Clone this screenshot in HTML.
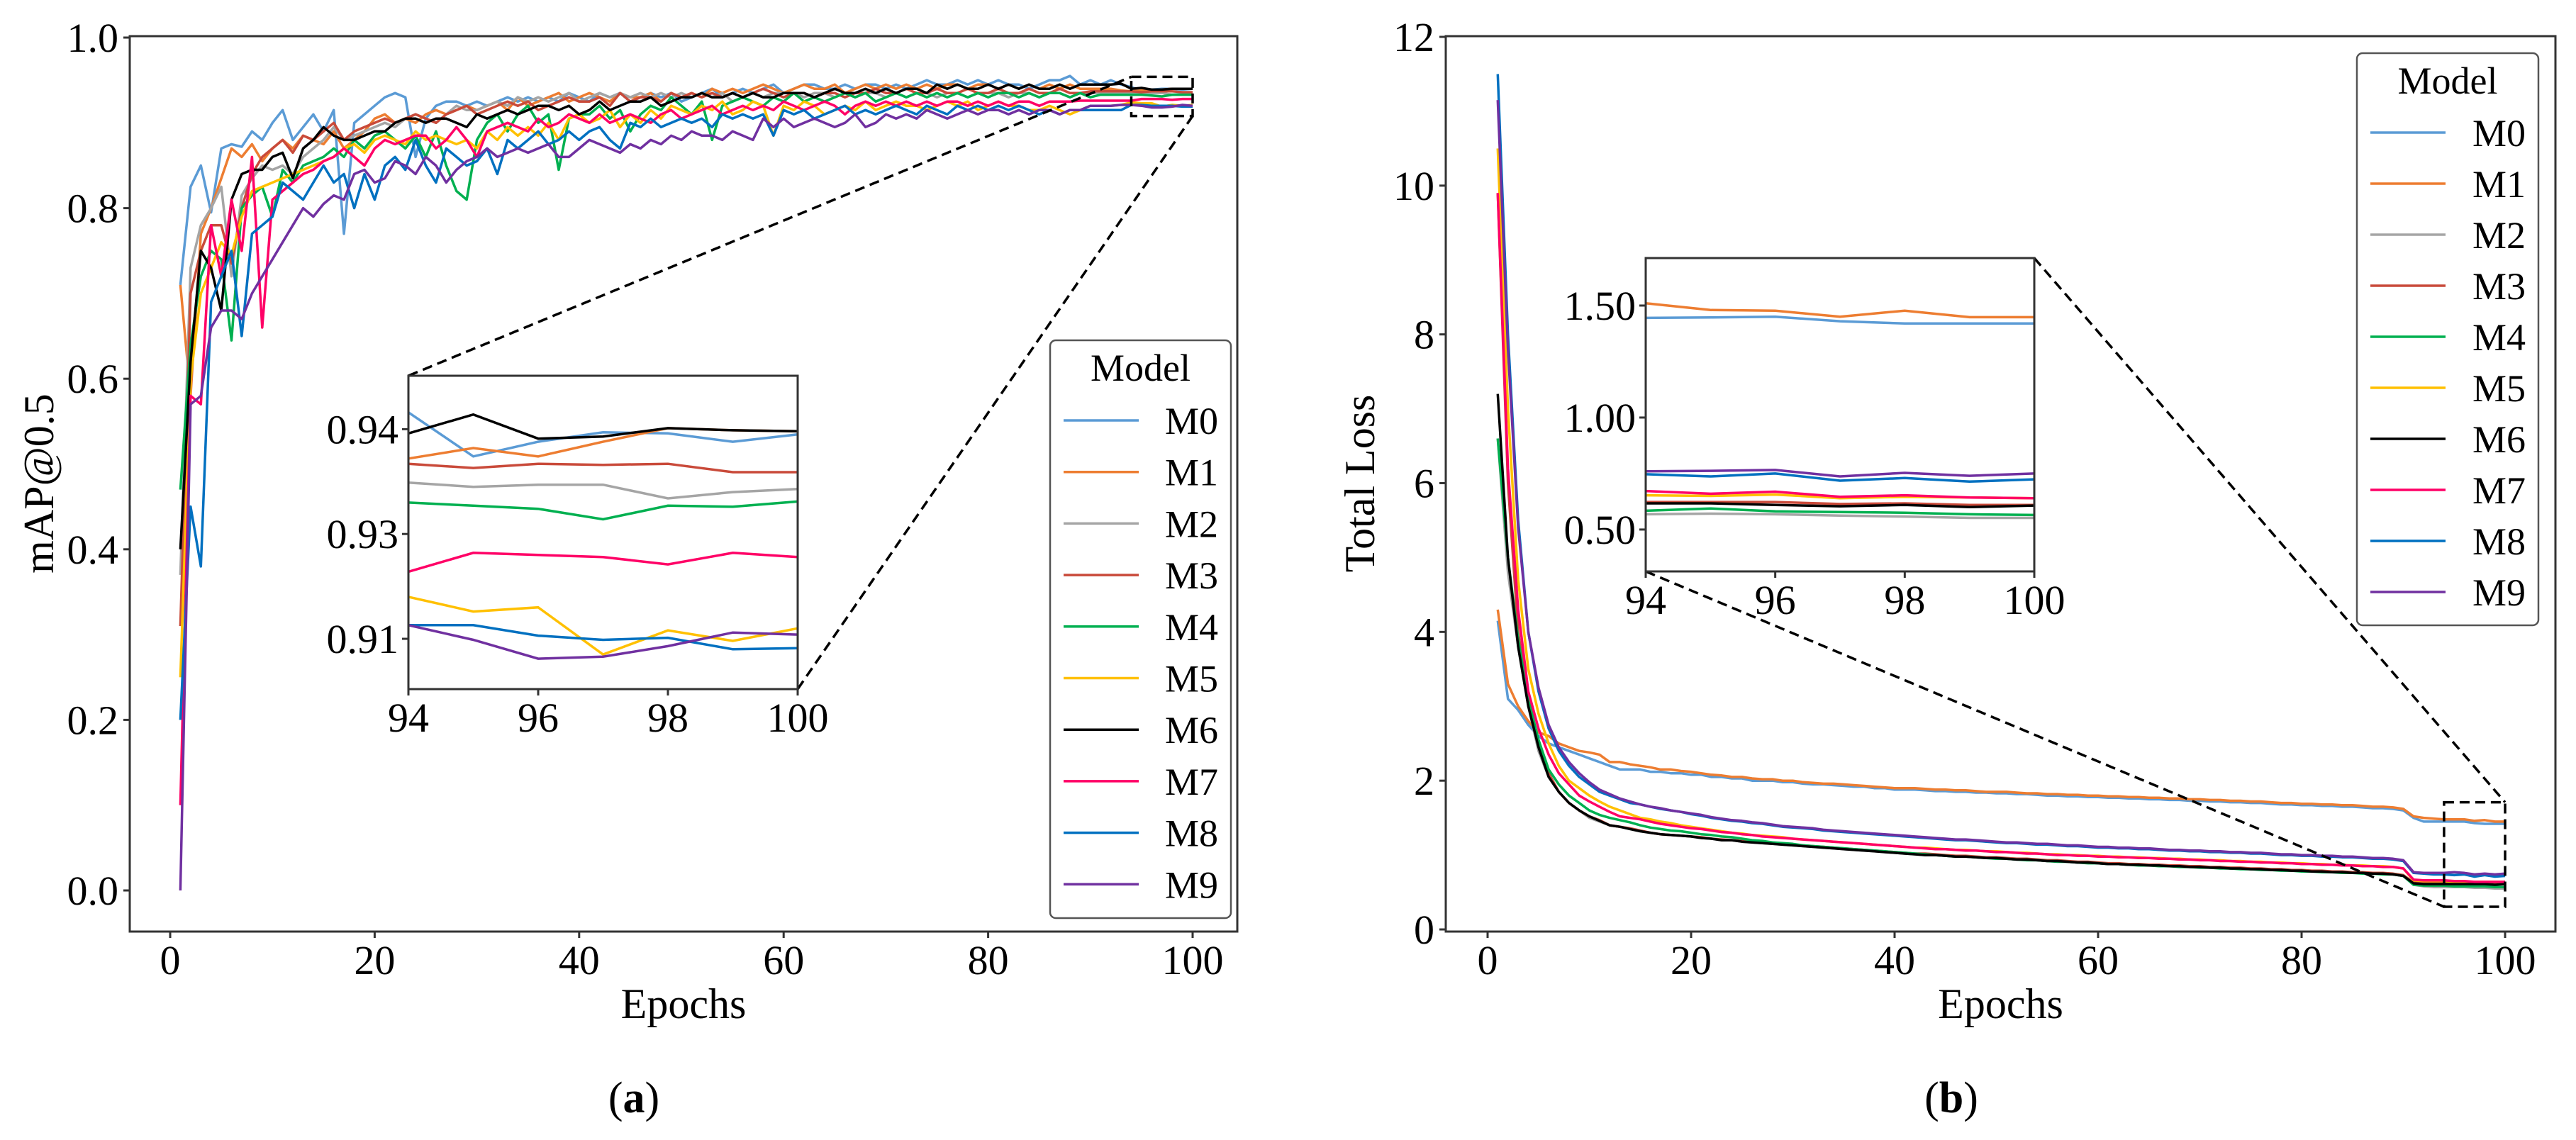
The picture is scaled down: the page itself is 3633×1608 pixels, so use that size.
<!DOCTYPE html>
<html><head><meta charset="utf-8"><style>
html,body{margin:0;padding:0;background:#fff;}
svg{display:block;font-family:"Liberation Serif",serif;}
</style></head><body>
<svg id="fig" width="3633" height="1608" viewBox="0 0 3633 1608" xmlns="http://www.w3.org/2000/svg"></svg>
<script>
const models=['M0','M1','M2','M3','M4','M5','M6','M7','M8','M9'];
const colors=['#5b9bd5','#ed7d31','#a5a5a5','#c94a3a','#00b050','#ffc000','#000000','#ff0066','#0070c0','#7030a0'];
const mapTicks=[0,0.2,0.4,0.6,0.8,1.0];
const mapTickLabels=['0.0','0.2','0.4','0.6','0.8','1.0'];
const epochTicks=[0,20,40,60,80,100];
const lossTicks=[0,2,4,6,8,10,12];
const insetEpochTicks=[94,96,98,100];
const mapInsetTicks=[0.94,0.93,0.92];
const mapInsetTickLabels=['0.94','0.93','0.91'];
const lossInsetTicks=[0.5,1.0,1.5];
const lossInsetTickLabels=['0.50','1.00','1.50'];
const insetEpochs=[94,95,96,97,98,99,100];
// mAP@0.5 in thousandths, epochs 1..100
const mapM0=[710,825,850,795,870,875,872,890,880,900,915,880,895,910,890,915,770,900,910,920,930,935,930,860,905,920,925,925,920,925,920,925,930,925,930,925,930,925,935,930,925,935,930,935,925,930,935,930,935,925,930,935,940,930,935,940,935,940,945,935,940,945,945,940,940,945,940,945,945,940,945,940,945,950,945,945,950,945,950,945,950,945,945,940,945,950,950,955,945,950,945,950,945,942,937,939,940,940,939,940];
const mapM1=[710,580,770,800,835,870,860,875,855,870,880,870,885,880,875,890,870,880,890,905,910,900,905,900,910,915,910,915,920,915,920,925,915,930,920,925,930,935,925,930,935,930,925,935,930,930,935,925,935,930,935,930,940,935,940,935,940,945,940,935,940,945,940,940,945,935,940,945,940,945,940,945,940,945,940,945,945,940,945,945,940,945,940,945,940,945,940,945,940,940,940,940,938,937,938,937,939,940,940,940];
const mapM2=[370,730,780,800,825,720,815,835,850,845,850,840,860,870,880,895,880,885,890,895,900,895,905,910,905,900,910,920,915,915,920,925,920,930,925,930,925,930,935,925,930,935,930,935,930,935,930,935,930,935,930,935,930,935,925,930,935,930,935,935,935,930,935,935,930,935,930,935,935,930,935,930,935,935,930,935,935,930,935,935,935,930,935,935,930,935,935,930,935,935,935,935,935,935,934,935,935,933,934,934];
const mapM3=[310,700,750,780,780,735,800,840,860,870,880,865,885,880,890,900,880,890,895,900,905,900,905,910,905,900,910,915,920,910,915,920,925,920,925,915,920,925,930,925,925,930,920,935,925,930,930,925,935,930,935,930,935,930,935,930,935,940,935,930,935,935,930,935,935,930,935,935,940,935,935,940,935,935,940,935,935,940,935,935,940,935,935,940,935,935,940,935,935,937,937,937,937,937,936,937,937,937,936,936];
const mapM4=[470,640,720,750,740,645,800,815,825,790,845,830,850,855,860,870,860,880,870,885,890,880,870,885,860,890,850,820,810,880,900,910,890,910,920,900,910,845,905,910,910,920,905,915,890,910,920,915,930,920,910,925,880,920,925,930,925,920,930,925,935,925,930,925,930,935,930,935,925,930,935,930,935,930,935,930,935,930,935,930,935,935,930,935,930,935,935,930,935,930,933,933,933,933,933,932,931,933,933,933];
const mapM5=[250,600,700,730,760,745,790,820,825,830,835,840,845,850,855,860,870,875,865,880,885,880,875,890,880,885,880,875,880,870,890,880,895,885,895,885,900,880,905,910,900,905,915,895,910,900,915,905,920,915,910,920,915,925,910,915,925,920,885,920,915,925,920,910,915,920,915,925,915,920,925,920,920,915,920,925,920,925,915,920,925,920,920,915,915,920,915,910,915,920,920,920,921,924,923,923,919,921,920,921];
const mapM6=[400,620,750,730,680,810,840,845,845,860,865,835,870,880,895,885,880,880,885,890,890,900,905,905,900,905,905,900,895,910,905,910,915,910,915,920,920,915,920,910,915,925,915,920,925,925,930,920,925,930,930,935,930,930,935,930,935,930,930,935,935,935,930,935,940,935,935,940,935,940,935,940,940,935,945,940,945,940,940,945,940,945,940,945,940,940,945,940,945,945,945,945,946,940,941,939,939,940,940,940];
const mapM7=[100,580,570,780,720,810,750,860,660,810,820,830,840,845,855,860,870,860,850,870,880,875,880,885,885,870,880,895,880,860,890,895,900,895,890,905,895,900,910,905,900,910,900,905,910,905,900,910,915,905,910,915,920,910,915,920,915,920,915,925,920,915,920,925,920,910,920,925,920,925,920,925,920,925,920,925,925,920,925,920,925,920,925,925,920,925,925,925,926,926,926,926,926,926,928,928,928,927,928,928];
const mapM8=[200,450,380,690,720,750,650,770,780,790,830,820,810,830,850,830,840,800,840,810,850,860,845,880,850,830,870,860,850,855,870,840,880,870,880,890,875,880,890,880,890,895,880,870,900,895,905,895,900,905,900,905,895,910,905,910,905,910,885,915,910,915,905,910,915,920,910,915,910,915,920,915,910,920,915,910,920,915,920,915,920,915,920,915,910,915,910,915,915,915,915,915,915,921,921,920,920,920,919,919];
const mapM9=[0,570,580,660,680,680,670,700,720,740,760,780,800,790,805,815,810,840,845,830,835,855,850,840,860,850,830,845,855,860,870,860,865,870,865,870,875,860,860,870,880,875,870,865,875,870,880,875,885,880,890,885,885,880,890,885,880,905,895,905,895,900,905,900,895,900,910,895,900,910,905,910,905,915,910,905,910,915,910,915,915,910,915,910,915,915,910,915,915,920,920,920,921,921,920,918,918,919,921,920];
// inset mAP values (epochs 94..100)
const mapInM0=[0.9416,0.9374,0.9388,0.9397,0.9396,0.9388,0.9395];
const mapInM1=[0.9372,0.9382,0.9374,0.9388,0.9401,0.9399,0.9398];
const mapInM2=[0.9349,0.9345,0.9347,0.9347,0.9334,0.9340,0.9343];
const mapInM3=[0.9367,0.9363,0.9367,0.9366,0.9367,0.9359,0.9359];
const mapInM4=[0.9330,0.9327,0.9324,0.9314,0.9327,0.9326,0.9331];
const mapInM5=[0.9240,0.9226,0.9230,0.9185,0.9208,0.9198,0.9210];
const mapInM6=[0.9396,0.9414,0.9391,0.9393,0.9401,0.9399,0.9398];
const mapInM7=[0.9264,0.9282,0.9280,0.9278,0.9271,0.9282,0.9278];
const mapInM8=[0.9213,0.9213,0.9203,0.9199,0.9201,0.9190,0.9191];
const mapInM9=[0.9213,0.9199,0.9181,0.9183,0.9193,0.9206,0.9204];
// total loss in hundredths, epochs 1..100
const lossM0=[415,310,295,275,260,250,245,240,235,230,225,220,215,215,215,212,212,210,210,208,208,205,205,203,203,200,200,200,198,198,196,195,195,194,193,192,192,190,190,188,188,188,187,186,186,185,185,184,184,183,183,182,182,181,180,180,179,179,178,178,177,177,176,176,175,175,174,174,173,173,172,172,171,171,170,170,169,168,168,167,167,166,166,165,165,164,163,163,162,160,150,145,145,145,145,145,143,142,142,142];
const lossM1=[430,330,300,280,265,260,250,245,240,238,235,225,225,222,220,218,215,215,213,212,210,208,207,205,205,203,202,202,200,200,198,197,196,196,195,194,193,192,191,190,190,190,189,188,188,187,187,186,185,185,185,184,183,183,182,182,181,181,180,180,179,179,178,178,177,177,176,176,175,175,174,174,173,173,172,172,171,170,170,169,169,168,168,167,167,166,165,165,164,162,152,150,149,148,148,148,146,147,145,145];
const lossM2=[660,480,380,300,240,205,185,170,160,150,145,140,138,135,132,130,128,127,126,125,123,122,120,120,118,117,116,115,114,113,112,111,110,109,108,107,106,105,104,103,102,101,100,100,99,98,98,97,96,96,95,94,94,93,92,92,91,90,90,89,88,88,87,87,86,86,85,85,84,84,83,83,82,82,81,81,80,80,79,79,78,78,77,77,76,76,75,75,74,72,60,58,57,57,57,57,56,56,55,55];
const lossM3=[990,600,400,310,250,210,185,170,160,152,147,140,138,136,133,130,128,127,126,125,124,122,121,120,119,118,117,116,115,114,113,112,111,110,109,108,107,106,105,104,103,102,102,101,100,99,99,98,97,97,96,95,95,94,93,93,92,91,91,90,89,89,88,88,87,87,86,86,85,85,84,84,83,83,82,82,81,81,80,80,79,79,78,78,77,77,76,76,75,73,63,62,62,62,62,62,61,62,61,61];
const lossM4=[660,500,390,310,255,215,195,180,170,160,154,150,147,144,140,137,135,133,132,130,128,127,125,124,122,120,119,117,116,115,113,112,111,110,109,108,107,106,105,104,103,102,101,100,99,98,98,97,96,95,95,94,93,93,92,91,91,90,89,89,88,88,87,86,86,85,85,84,84,83,83,82,82,81,81,80,80,79,79,78,78,77,77,76,76,75,75,74,74,72,60,59,59,59,58,58,58,58,57,57];
const lossM5=[1050,700,470,350,290,250,220,200,190,180,172,165,160,155,150,148,145,143,140,138,136,134,132,130,129,127,126,125,124,122,121,120,119,118,117,116,115,114,113,112,111,110,110,109,108,107,107,106,105,105,104,103,103,102,101,101,100,100,99,99,98,98,97,97,96,96,95,95,94,94,93,93,92,92,91,91,90,90,89,89,88,88,87,87,86,86,85,85,84,82,66,65,65,65,64,64,64,64,64,64];
const lossM6=[720,500,380,300,245,205,185,170,160,152,146,140,138,135,132,130,128,127,126,125,123,122,120,120,118,117,116,115,114,113,112,111,110,109,108,107,106,105,104,103,102,101,100,100,99,98,98,97,96,96,95,94,94,93,92,92,91,90,90,89,88,88,87,87,86,86,85,85,84,84,83,83,82,82,81,81,80,80,79,79,78,78,77,77,76,76,75,75,74,72,62,61,61,61,61,61,61,61,60,61];
const lossM7=[990,620,430,320,270,235,210,195,180,172,165,158,152,150,148,145,142,140,138,136,135,133,131,130,128,127,125,124,123,122,121,120,119,118,117,116,115,114,113,112,111,110,109,108,108,107,106,106,105,104,104,103,102,102,101,100,100,99,99,98,98,97,97,96,96,95,95,94,94,93,93,92,92,91,91,90,90,89,89,88,88,87,87,86,86,85,85,84,84,82,67,66,66,66,65,65,64,64,64,64];
const lossM8=[1150,800,550,400,320,270,240,220,205,195,185,180,175,170,168,165,162,160,158,155,153,150,148,146,145,143,142,140,138,137,136,135,133,132,131,130,129,128,127,126,125,124,123,122,121,120,120,119,118,117,116,116,115,114,114,113,112,112,111,110,110,109,109,108,108,107,106,106,105,105,104,104,103,103,102,102,101,100,100,99,99,98,98,97,97,96,95,95,94,92,76,75,74,74,73,74,71,73,71,72];
const lossM9=[1115,780,540,400,325,275,245,225,210,198,188,182,176,172,168,165,163,160,158,156,154,151,149,147,146,144,143,141,139,138,137,136,134,133,132,131,130,129,128,127,126,125,124,123,122,121,121,120,119,118,117,117,116,115,115,114,113,113,112,111,111,110,110,109,109,108,107,107,106,106,105,105,104,104,103,103,102,101,101,100,100,99,99,98,98,97,96,96,95,93,77,76,76,76,77,76,74,75,74,75];
// inset loss values (epochs 94..100)
const lossInM0=[1.445,1.447,1.450,1.430,1.420,1.420,1.420];
const lossInM1=[1.510,1.480,1.477,1.450,1.477,1.448,1.448];
const lossInM2=[0.568,0.571,0.568,0.562,0.558,0.552,0.552];
const lossInM3=[0.623,0.623,0.623,0.614,0.617,0.610,0.610];
const lossInM4=[0.584,0.594,0.581,0.578,0.575,0.568,0.565];
const lossInM5=[0.653,0.650,0.656,0.640,0.646,0.643,0.640];
const lossInM6=[0.617,0.617,0.610,0.604,0.610,0.600,0.607];
const lossInM7=[0.672,0.660,0.669,0.646,0.653,0.643,0.640];
const lossInM8=[0.747,0.737,0.750,0.718,0.730,0.714,0.724];
const lossInM9=[0.760,0.762,0.766,0.737,0.753,0.740,0.750];

const mapSeries=[mapM0,mapM1,mapM2,mapM3,mapM4,mapM5,mapM6,mapM7,mapM8,mapM9];
const mapInset=[mapInM0,mapInM1,mapInM2,mapInM3,mapInM4,mapInM5,mapInM6,mapInM7,mapInM8,mapInM9];
const lossSeries=[lossM0,lossM1,lossM2,lossM3,lossM4,lossM5,lossM6,lossM7,lossM8,lossM9];
const lossInset=[lossInM0,lossInM1,lossInM2,lossInM3,lossInM4,lossInM5,lossInM6,lossInM7,lossInM8,lossInM9];

const NS='http://www.w3.org/2000/svg';
const svg=document.getElementById('fig');
function mk(tag,attrs,parent,text){const e=document.createElementNS(NS,tag);for(const k in attrs)e.setAttribute(k,attrs[k]);if(text!==undefined)e.textContent=text;(parent||svg).appendChild(e);return e;}
function lin(d0,d1,r0,r1){return v=>r0+(v-d0)/(d1-d0)*(r1-r0);}

function drawPanel(o){
  const g=mk('g',{});
  
  
  const X=lin(0,100,o.x0,o.x100), Y=lin(o.ylo,o.yhi,o.ylop,o.yhip);
  // lines
  const lg=mk('g',{},g);
  
  
  o.series.forEach((s,i)=>{
    const pts=s.map((v,j)=>X(j+1).toFixed(1)+','+Y(v*o.scale).toFixed(1)).join(' ');
    const p=mk('polyline',{points:pts,fill:'none',stroke:colors[i],'stroke-width':3.5,'stroke-linejoin':'round'},lg);
    
    
  });
  // axes box
  const box=mk('rect',{x:o.L,y:o.T,width:o.R-o.L,height:o.B-o.T,fill:'none',stroke:'#333','stroke-width':3},g);
  
  
  o.yticks.forEach((t,i)=>{
    mk('line',{x1:o.L-9,x2:o.L,y1:Y(t),y2:Y(t),stroke:'#333','stroke-width':3},g);
    const tx=mk('text',{x:o.L-16,y:Y(t)+20,'text-anchor':'end','font-size':58},g,o.ylabels[i]);
    
    
  });
  epochTicks.forEach(t=>{
    mk('line',{x1:X(t),x2:X(t),y1:o.B,y2:o.B+9,stroke:'#333','stroke-width':3},g);
    const tx=mk('text',{x:X(t),y:o.B+60,'text-anchor':'middle','font-size':58},g,String(t));
    
    
  });
  const xt=mk('text',{x:(o.L+o.R)/2,y:o.B+122,'text-anchor':'middle','font-size':60},g,'Epochs');
  
  
  const yt=mk('text',{x:0,y:0,'text-anchor':'middle','font-size':60,transform:`translate(${o.ylabX},${o.ylabY}) rotate(-90)`},g,o.ytitle);
  
  
  const cap=mk('text',{x:o.capX,y:1569,'text-anchor':'middle','font-size':62},g);
  
  
  mk('tspan',{},cap,'(');mk('tspan',{'font-weight':'bold'},cap,o.cap);mk('tspan',{},cap,')');
  // zoom rect
  const zr=o.zoom;
  const rx0=X(94),rx1=X(100),ry0=Y(zr[1]),ry1=Y(zr[0]);
  const zrect=mk('rect',{x:rx0,y:ry0,width:rx1-rx0,height:ry1-ry0,fill:'none',stroke:'#000','stroke-width':3.5,'stroke-dasharray':'14,8'},g);
  
  
  // inset
  const I=o.inset;
  const IX=lin(94,100,I.L,I.R), IY=lin(I.ylo,I.yhi,I.B,I.T);
  o.connectors(rx0,ry0,rx1,ry1,I).forEach(c=>{
    const l=mk('line',{x1:c[0],y1:c[1],x2:c[2],y2:c[3],stroke:'#000','stroke-width':3.5,'stroke-dasharray':'14,8'},g);
    
    
  });
  const ig=mk('g',{},g);
  
  
  mk('rect',{x:I.L,y:I.T,width:I.R-I.L,height:I.B-I.T,fill:'#fff'},ig);
  o.insetSeries.forEach((s,i)=>{
    const pts=s.map((v,j)=>IX(insetEpochs[j]).toFixed(1)+','+IY(v).toFixed(1)).join(' ');
    const p=mk('polyline',{points:pts,fill:'none',stroke:colors[i],'stroke-width':3.5},ig);
    
    
  });
  mk('rect',{x:I.L,y:I.T,width:I.R-I.L,height:I.B-I.T,fill:'none',stroke:'#333','stroke-width':3},ig);
  I.yticks.forEach((t,i)=>{
    mk('line',{x1:I.L-9,x2:I.L,y1:IY(t),y2:IY(t),stroke:'#333','stroke-width':3},ig);
    const tx=mk('text',{x:I.L-14,y:IY(t)+20,'text-anchor':'end','font-size':58},ig,I.ylabels[i]);
    
    
  });
  insetEpochTicks.forEach(t=>{
    mk('line',{x1:IX(t),x2:IX(t),y1:I.B,y2:I.B+9,stroke:'#333','stroke-width':3},ig);
    const tx=mk('text',{x:IX(t),y:I.B+60,'text-anchor':'middle','font-size':58},ig,String(t));
    
    
  });
  // legend
  const Lg=o.legend;
  const leg=mk('g',{},g);
  
  
  mk('rect',{x:Lg.x,y:Lg.y,width:Lg.w,height:Lg.h,rx:8,fill:'#fff',stroke:'#555','stroke-width':2.5},leg);
  const tt=mk('text',{x:Lg.x+Lg.w/2,y:Lg.y+57,'text-anchor':'middle','font-size':54},leg,'Model');
  
  
  models.forEach((m,i)=>{
    const yy=Lg.y0+i*Lg.dy;
    const e=mk('g',{},leg);
    
    
    mk('line',{x1:Lg.x+19,x2:Lg.x+125,y1:yy,y2:yy,stroke:colors[i],'stroke-width':3.5},e);
    mk('text',{x:Lg.x+Lg.w-18,y:yy+19,'text-anchor':'end','font-size':54},e,m);
  });
}

drawPanel({name:'map-panel',L:183,R:1745,T:51,B:1314,x0:240,x100:1682,ylo:0,yhi:1,ylop:1256,yhip:53,scale:0.001,
  series:mapSeries,yticks:mapTicks,ylabels:mapTickLabels,ytitle:'mAP@0.5',ylabX:75,ylabY:682,cap:'a',capX:894,
  zoom:[0.908,0.954],
  inset:{L:576,R:1125,T:530,B:972,ylo:0.9152,yhi:0.9451,yticks:mapInsetTicks,ylabels:mapInsetTickLabels},
  insetSeries:mapInset,
  connectors:(x0,y0,x1,y1,I)=>[[I.L,I.T,x0,y0],[I.R,I.B,x1,y1]],
  legend:{x:1481,y:480,w:255,h:815,y0:593,dy:72.7}});

drawPanel({name:'loss-panel',L:2039,R:3604,T:51,B:1314,x0:2098,x100:3533,ylo:0,yhi:12,ylop:1311,yhip:52,scale:0.01,
  series:lossSeries,yticks:lossTicks,ylabels:lossTicks.map(String),ytitle:'Total Loss',ylabX:1938,ylabY:682,cap:'b',capX:2752,
  zoom:[0.305,1.71],
  inset:{L:2321,R:2869,T:364,B:806,ylo:0.313,yhi:1.712,yticks:lossInsetTicks,ylabels:lossInsetTickLabels},
  insetSeries:lossInset,
  connectors:(x0,y0,x1,y1,I)=>[[I.R,I.T,x1,y0],[I.L,I.B,x0,y1]],
  legend:{x:3324,y:75,w:256,h:807,y0:187,dy:72}});
</script>
</body></html>
